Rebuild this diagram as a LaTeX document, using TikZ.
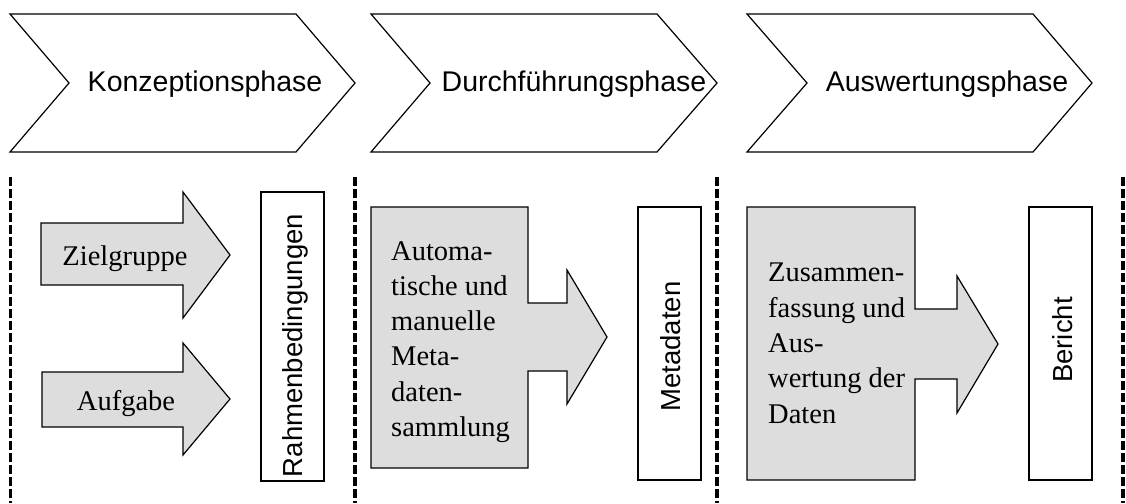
\documentclass[tikz,border=0pt]{standalone}
\usepackage{fontspec}
\setmainfont{Liberation Serif}
\newfontfamily\hdrfont{Liberation Sans}
\definecolor{boxgray}{RGB}{221,221,221}
\begin{document}
\begin{tikzpicture}[x=1pt,y=-1pt,
  phase/.style={draw=black,line width=1.2pt,fill=white,line join=miter},
  grayshape/.style={draw=black,line width=1.2pt,fill=boxgray,line join=miter},
  whitebox/.style={draw=black,line width=1.2pt,fill=white},
  phasetext/.style={font=\hdrfont\fontsize{28.5}{34}\selectfont,inner sep=0pt,anchor=base},
  arrowtext/.style={font=\fontsize{28.5}{35}\selectfont,inner sep=0pt,anchor=base},
  boxtext/.style={font=\fontsize{28.5}{35.3}\selectfont,align=left,inner sep=0pt,anchor=north west},
  vtext/.style={font=\hdrfont\fontsize{27.5}{30}\selectfont,rotate=90,inner sep=0pt,anchor=base},
  sep/.style={line width=3.3pt,dash pattern=on 8.5pt off 3.5pt}]
\useasboundingbox (0,0) rectangle (1126,503);

% phase chevrons
\draw[phase] (10,14) -- (296,14) -- (355,83) -- (296,152) -- (10,152) -- (69,83) -- cycle;
\draw[phase] (371,14) -- (657,14) -- (717,83) -- (657,152) -- (371,152) -- (430,83) -- cycle;
\draw[phase] (747,14) -- (1033,14) -- (1092,83) -- (1033,152) -- (747,152) -- (807,83) -- cycle;
\node[phasetext] (p1) at (205,92) {Konzeptionsphase};
\node[phasetext] (p2) at (574,92) {Durchführungsphase};
\node[phasetext] (p3) at (947,92) {Auswertungsphase};

% separators
\coordinate (s1a) at (10.5,177); \coordinate (s1b) at (10.5,503);
\coordinate (s2a) at (355,177); \coordinate (s2b) at (355,503);
\coordinate (s3a) at (717,177); \coordinate (s3b) at (717,503);
\coordinate (s4a) at (1123,177); \coordinate (s4b) at (1123,503);
\draw[sep] (s1a) -- (s1b);
\draw[sep] (s2a) -- (s2b);
\draw[sep] (s3a) -- (s3b);
\draw[sep] (s4a) -- (s4b);

% phase 1
\draw[grayshape] (41,223) -- (183,223) -- (183,192) -- (230,255) -- (183,318) -- (183,285) -- (41,285) -- cycle;
\node[arrowtext] (ziel) at (125,265) {Zielgruppe};
\draw[grayshape] (42,372) -- (183,372) -- (183,343) -- (230,399) -- (183,455) -- (183,427) -- (42,427) -- cycle;
\node[arrowtext] (aufg) at (126,410) {Aufgabe};
\draw[whitebox] (261,192) rectangle (324,481);
\node[vtext] (rahmen) at (302,345.5) {Rahmenbedingungen};

% phase 2
\draw[grayshape] (371,207) -- (528,207) -- (528,303) -- (567,303) -- (567,270) -- (607,337) -- (567,404) -- (567,371) -- (528,371) -- (528,468) -- (371,468) -- cycle;
\node[boxtext] (samml) at (391,241) {Automa-\\tische und\\manuelle\\Meta-\\daten-\\sammlung};
\draw[whitebox] (638,207) rectangle (701,480);
\node[vtext] (meta) at (680,346.5) {Metadaten};

% phase 3
\draw[grayshape] (747,207) -- (915,207) -- (915,309) -- (957,309) -- (957,276) -- (998,344) -- (957,413) -- (957,379) -- (915,379) -- (915,480) -- (747,480) -- cycle;
\node[boxtext] (ausw) at (768,263) {Zusammen-\\fassung und\\Aus-\\wertung der\\Daten};
\draw[whitebox] (1029,207) rectangle (1092,480);
\node[vtext] (bericht) at (1072,340) {Bericht};
\end{tikzpicture}
\end{document}
